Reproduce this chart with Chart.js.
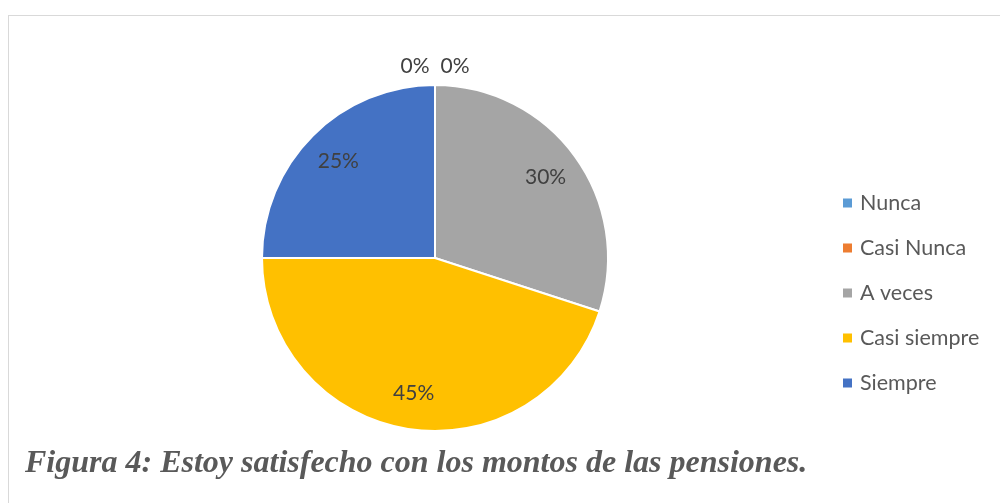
<!DOCTYPE html>
<html><head><meta charset="utf-8">
<script src="https://cdn.jsdelivr.net/npm/chart.js@4.4.0/dist/chart.umd.min.js"></script>
<style>
html,body{margin:0;padding:0;background:#fff;width:1000px;height:503px;overflow:hidden;}
#frame{position:absolute;left:8px;top:15px;width:1100px;height:600px;border:1px solid #d9d9d9;box-sizing:border-box;}
#wrap{position:absolute;left:0;top:0;width:1000px;height:503px;}
#cap{position:absolute;left:25px;top:443px;font-family:"Liberation Serif","Times New Roman",serif;font-weight:bold;font-style:italic;font-size:32px;color:#595959;white-space:nowrap;}
</style></head>
<body>
<div id="frame"></div>
<div id="wrap"><canvas id="c" width="1000" height="503"></canvas></div>
<div id="cap">Figura 4: Estoy satisfecho con los montos de las pensiones.</div>
<script>
const categories = ["Nunca", "Casi Nunca", "A veces", "Casi siempre", "Siempre"];
const values = [0, 0, 30, 45, 25];
const colors = ["#5b9bd5", "#ed7d31", "#a5a5a5", "#ffc000", "#4472c4"];

const labelFont = '21px Lato, "Open Sans", sans-serif';

const pieLabels = {
  id: 'pieLabels',
  afterDatasetsDraw(chart) {
    const ctx = chart.ctx;
    const meta = chart.getDatasetMeta(0);
    const ds = chart.data.datasets[0].data;
    const total = ds.reduce((a, b) => a + b, 0);
    ctx.save();
    ctx.font = labelFont;
    ctx.fillStyle = '#404040';
    ctx.textAlign = 'center';
    ctx.textBaseline = 'middle';
    let zeroIdx = 0;
    const zeroCount = ds.filter(v => v === 0).length;
    meta.data.forEach((arc, i) => {
      const pct = Math.round(ds[i] / total * 100) + '%';
      const mid = (arc.startAngle + arc.endAngle) / 2;
      if (ds[i] === 0) {
        const off = (zeroIdx - (zeroCount - 1) / 2) * 40;
        ctx.fillText(pct, arc.x + off, arc.y - arc.outerRadius - 19);
        zeroIdx++;
      } else {
        const r = arc.outerRadius * 0.79;
        ctx.fillText(pct, arc.x + Math.cos(mid) * r, arc.y + Math.sin(mid) * r);
      }
    });
    ctx.restore();
  }
};

const customLegend = {
  id: 'customLegend',
  afterDraw(chart) {
    const ctx = chart.ctx;
    ctx.save();
    ctx.font = '21.5px Lato, "Open Sans", sans-serif';
    ctx.textBaseline = 'middle';
    ctx.textAlign = 'left';
    chart.data.labels.forEach((lab, i) => {
      const y = 203 + i * 45;
      ctx.fillStyle = chart.data.datasets[0].backgroundColor[i];
      ctx.fillRect(843, y - 4.5, 9, 9);
      ctx.fillStyle = '#595959';
      ctx.fillText(lab, 860, y);
    });
    ctx.restore();
  }
};

new Chart(document.getElementById('c'), {
  type: 'pie',
  data: {
    labels: categories,
    datasets: [{
      data: values,
      backgroundColor: colors,
      borderColor: '#ffffff',
      borderWidth: 2
    }]
  },
  options: {
    responsive: false,
    animation: false,
    events: [],
    layout: { padding: { left: 261, right: 391, top: 83, bottom: 70 } },
    plugins: { legend: { display: false }, tooltip: { enabled: false } }
  },
  plugins: [pieLabels, customLegend]
});
</script>
</body></html>
